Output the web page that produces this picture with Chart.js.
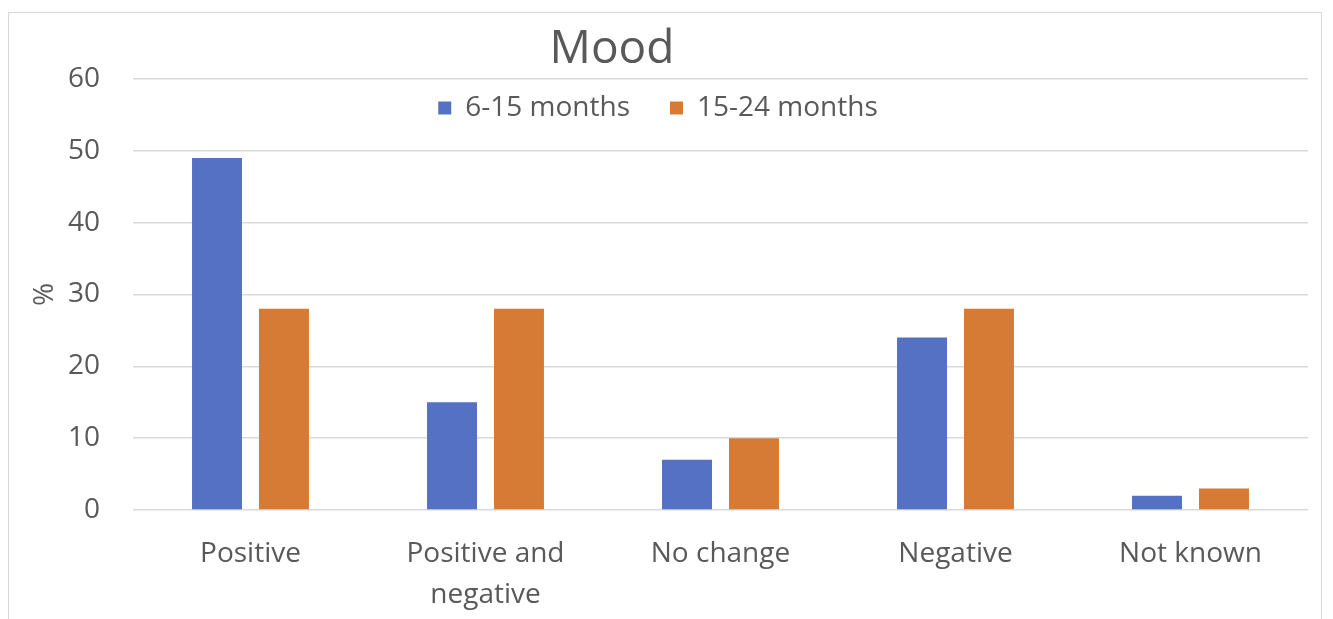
<!DOCTYPE html>
<html>
<head>
<meta charset="utf-8">
<script src="https://cdn.jsdelivr.net/npm/chart.js@4"></script>
<style>
  html, body { margin: 0; padding: 0; background: #fff; }
  #wrap { position: relative; width: 1333px; height: 619px; overflow: hidden; }
  #frame { position: absolute; left: 8px; top: 12px; width: 1312px; height: 700px;
           border: 1px solid #d9d9d9; pointer-events: none; }
</style>
</head>
<body>
<div id="wrap">
  <canvas id="moodChart" width="1333" height="619"></canvas>
  <div id="frame"></div>
</div>
<script>
// Datos del gráfico
const categories = ['Positive', ['Positive and', 'negative'], 'No change', 'Negative', 'Not known'];
const seriesNames = ['6-15 months', '15-24 months'];
const months6to15 = [49, 15, 7, 24, 2];
const months15to24 = [28, 28, 10, 28, 3];
const yTicks = [0, 10, 20, 30, 40, 50, 60];

const textColor = '#595959';
const fontFamily = "'Open Sans', 'Liberation Sans', sans-serif";

// Título dibujado a mano (no está centrado en el gráfico)
const moodTitle = {
    id: 'moodTitle',
    afterDraw(chart) {
        const ctx = chart.ctx;
        ctx.save();
        ctx.fillStyle = textColor;
        ctx.font = '46px ' + fontFamily;
        ctx.textAlign = 'center';
        ctx.textBaseline = 'middle';
        ctx.fillText('Mood', 612, 50);
        ctx.restore();
    }
};

// La leyenda se solapa con el área del gráfico:
// ocupa poco en el layout, pero después se agranda para que no se recorte
const legendOverlap = {
    id: 'legendOverlap',
    beforeInit(chart) {
        const fit = chart.legend.fit;
        chart.legend.fit = function () {
            fit.call(this);
            this.height = 25;
        };
    },
    afterLayout(chart) {
        const legend = chart.legend;
        legend.height = 80;
        legend.bottom = legend.top + 80;
    }
};

new Chart(document.getElementById('moodChart'), {
    type: 'bar',
    data: {
        labels: categories,
        datasets: [{
            label: seriesNames[0],
            data: months6to15,
            backgroundColor: '#5571C4',
            categoryPercentage: 0.57,
            barPercentage: 0.746
        }, {
            label: seriesNames[1],
            data: months15to24,
            backgroundColor: '#D67B35',
            categoryPercentage: 0.57,
            barPercentage: 0.746
        }]
    },
    options: {
        responsive: false,
        animation: false,
        layout: { padding: { left: 8, right: 25, top: 54, bottom: 0 } },
        plugins: {
            title: { display: false },
            tooltip: { enabled: false },
            legend: {
                position: 'top',
                labels: {
                    color: textColor,
                    font: { family: fontFamily, size: 28 },
                    boxWidth: 13,
                    boxHeight: 13,
                    padding: 40
                }
            }
        },
        scales: {
            x: {
                grid: { display: false },
                border: { display: false },
                ticks: {
                    color: textColor,
                    font: { family: fontFamily, size: 28, lineHeight: 1.45 },
                    padding: 16,
                    maxRotation: 0,
                    autoSkip: false
                },
                afterFit(scale) { scale.height = 109; }
            },
            y: {
                min: 0,
                max: 60,
                afterBuildTicks(scale) { scale.ticks = yTicks.map(v => ({ value: v })); },
                grid: { color: '#d9d9d9', lineWidth: 1.5, drawTicks: false },
                border: { display: false },
                ticks: {
                    color: textColor,
                    font: { family: fontFamily, size: 28 },
                    padding: 33
                },
                title: {
                    display: true,
                    text: '%',
                    color: textColor,
                    font: { family: fontFamily, size: 28 },
                    padding: { top: 20, bottom: 0 }
                },
                afterFit(scale) { scale.width = 125; }
            }
        }
    },
    plugins: [moodTitle, legendOverlap]
});
</script>
</body>
</html>
